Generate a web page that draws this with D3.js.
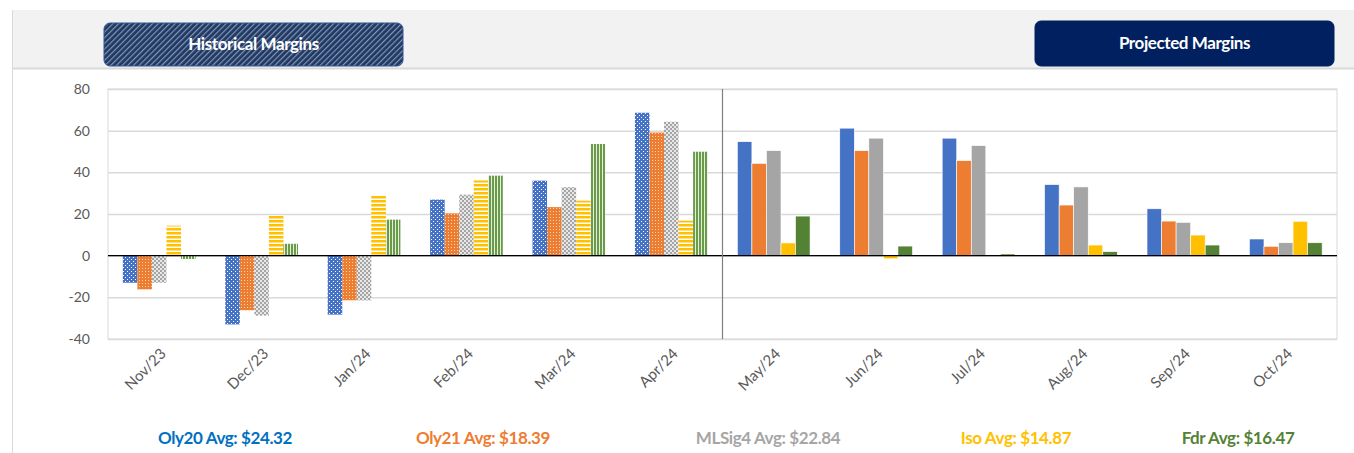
<!DOCTYPE html>
<html>
<head>
<meta charset="utf-8">
<script src="https://cdn.jsdelivr.net/npm/d3@7/dist/d3.min.js"></script>
<style>
  body { margin: 0; background: #fff; }
  svg text { font-family: Lato, "Open Sans", sans-serif; }
</style>
</head>
<body>
<div id="chart"></div>
<script>
// Datos del gráfico
const months = ["Nov/23", "Dec/23", "Jan/24", "Feb/24", "Mar/24", "Apr/24",
                "May/24", "Jun/24", "Jul/24", "Aug/24", "Sep/24", "Oct/24"];
const historicalCount = 6; // los primeros 6 meses son históricos

const oly20  = [-13, -33, -28.3, 26.9, 36, 68.6, 54.7, 61.2, 56.4, 34.1, 22.5, 8];
const oly21  = [-16.2, -26.2, -21.4, 20.3, 23.3, 59.1, 44.3, 50.4, 45.6, 24.3, 16.6, 4.5];
const mlsig4 = [-13, -28.8, -21.5, 29.3, 32.9, 64.3, 50.4, 56.4, 52.8, 33, 16, 6.2];
const iso    = [14.4, 19.2, 28.8, 36.1, 26.4, 16.8, 6.1, -1.5, 0, 5.1, 9.9, 16.5];
const fdr    = [-1.6, 5.7, 17.3, 38.4, 53.6, 49.9, 19, 4.6, 0.8, 1.9, 5.1, 6.2];

const seriesNames = ["Oly20", "Oly21", "MLSig4", "Iso", "Fdr"];
const seriesValues = [oly20, oly21, mlsig4, iso, fdr];
const seriesColors = ["#4472c4", "#ed7d31", "#a5a5a5", "#ffc000", "#548235"];

const avgLabels = ["Oly20 Avg: $24.32", "Oly21 Avg: $18.39", "MLSig4 Avg: $22.84", "Iso Avg: $14.87", "Fdr Avg: $16.47"];
const avgColors = ["#0070c0", "#ed7d31", "#a6a6a6", "#ffc000", "#548235"];
const avgX = [225, 483, 768, 1016, 1238];

const yTicks = [-40, -20, 0, 20, 40, 60, 80];

// Configuración
const W = 1354, H = 453;
const plot = { left: 108, right: 1337, top: 89, bottom: 339 };

const svg = d3.select("#chart").append("svg")
    .attr("width", W)
    .attr("height", H);

const defs = svg.append("defs");

// Patrones para las barras históricas
function pat(id, w, h) {
    return defs.append("pattern").attr("id", id)
        .attr("patternUnits", "userSpaceOnUse")
        .attr("width", w).attr("height", h);
}
// azul: puntos blancos
let p = pat("p0", 4, 4);
p.append("rect").attr("width", 4).attr("height", 4).attr("fill", seriesColors[0]);
p.append("rect").attr("x", 1).attr("y", 1).attr("width", 1).attr("height", 1).attr("fill", "#fff");
p.append("rect").attr("x", 3).attr("y", 3).attr("width", 1).attr("height", 1).attr("fill", "#fff");
// naranja: rejilla fina
p = pat("p1", 3, 3);
p.append("rect").attr("width", 3).attr("height", 3).attr("fill", seriesColors[1]);
p.append("rect").attr("x", 1).attr("y", 1).attr("width", 1).attr("height", 1).attr("fill", "#fbd3b5");
// gris: damero
p = pat("p2", 4, 4);
p.append("rect").attr("width", 4).attr("height", 4).attr("fill", seriesColors[2]);
p.append("rect").attr("x", 0).attr("y", 0).attr("width", 2).attr("height", 2).attr("fill", "#e8e8e8");
p.append("rect").attr("x", 2).attr("y", 2).attr("width", 2).attr("height", 2).attr("fill", "#e8e8e8");
// amarillo: rayas horizontales
p = pat("p3", 4, 4);
p.append("rect").attr("width", 4).attr("height", 4).attr("fill", "#fff");
p.append("rect").attr("width", 4).attr("height", 2.5).attr("fill", seriesColors[3]);
// verde: rayas verticales
p = pat("p4", 3, 3);
p.append("rect").attr("width", 3).attr("height", 3).attr("fill", "#e2efd9");
p.append("rect").attr("width", 2).attr("height", 3).attr("fill", "#6a9a4a");

// botón histórico: rayas diagonales
p = pat("diag", 4, 4).attr("patternTransform", "rotate(45)");
p.append("rect").attr("width", 4).attr("height", 4).attr("fill", "#1f3864");
p.append("rect").attr("width", 1.2).attr("height", 4).attr("fill", "#8496b0");

// Banda superior
svg.append("rect").attr("x", 12).attr("y", 10).attr("width", W - 12).attr("height", 58)
    .attr("fill", "#f2f2f2");
svg.append("line").attr("x1", 12).attr("x2", W).attr("y1", 68.5).attr("y2", 68.5)
    .attr("stroke", "#d9d9d9").attr("stroke-width", 2);
svg.append("line").attr("x1", 12.5).attr("x2", 12.5).attr("y1", 10).attr("y2", H)
    .attr("stroke", "#d9d9d9");

// Botones
const buttons = [
    { label: "Historical Margins", x: 104, y: 23, w: 299, h: 43, fill: "url(#diag)", stroke: "#2f5597" },
    { label: "Projected Margins", x: 1035, y: 21, w: 299, h: 45, fill: "#002060", stroke: "#002060" }
];
buttons.forEach(b => {
    svg.append("rect").attr("x", b.x).attr("y", b.y).attr("width", b.w).attr("height", b.h)
        .attr("rx", 6).attr("fill", b.fill).attr("stroke", b.stroke);
    svg.append("text").attr("x", b.x + b.w / 2).attr("y", b.y + b.h / 2)
        .attr("text-anchor", "middle").attr("dy", "0.35em")
        .attr("fill", "#fff").attr("font-weight", "bold").attr("font-size", 17)
        .style("letter-spacing", "-0.4px")
        .text(b.label);
});

// Escalas
const x = d3.scaleBand().domain(months).range([plot.left, plot.right])
    .paddingInner(0.29).paddingOuter(0.145);
const xs = d3.scaleBand().domain(d3.range(seriesNames.length)).range([0, x.bandwidth()]);
const y = d3.scaleLinear().domain([-40, 80]).range([plot.bottom, plot.top]);

// Área de trazado y rejilla
svg.append("rect").attr("x", plot.left).attr("y", plot.top)
    .attr("width", plot.right - plot.left).attr("height", plot.bottom - plot.top)
    .attr("fill", "#fff").attr("stroke", "#d9d9d9");

svg.append("g")
    .attr("transform", `translate(${plot.left},0)`)
    .call(d3.axisLeft(y).tickValues(yTicks).tickFormat(d => String(d))
        .tickSize(-(plot.right - plot.left)).tickPadding(18))
    .call(g => g.select(".domain").remove())
    .call(g => g.selectAll(".tick line").attr("stroke", "#d9d9d9").attr("stroke-width", 1.5))
    .call(g => g.selectAll(".tick text").attr("fill", "#595959").attr("font-size", 14)
        .attr("font-family", "Lato, 'Open Sans', sans-serif"));

// Barras
seriesValues.forEach((vals, si) => {
    svg.append("g").selectAll("rect")
        .data(vals.map((v, i) => ({ m: months[i], v, i })))
        .enter().append("rect")
        .attr("x", d => x(d.m) + xs(si))
        .attr("width", xs.bandwidth())
        .attr("y", d => y(Math.max(0, d.v)))
        .attr("height", d => Math.abs(y(d.v) - y(0)))
        .attr("fill", d => d.i < historicalCount ? `url(#p${si})` : seriesColors[si])
        .attr("stroke", d => d.i < historicalCount ? "none" : "#fff")
        .attr("stroke-width", 0.6);
});

// Línea cero
svg.append("line").attr("x1", plot.left).attr("x2", plot.right)
    .attr("y1", y(0)).attr("y2", y(0)).attr("stroke", "#000").attr("stroke-width", 1.2);

// Separador histórico / proyectado
const sepX = x(months[historicalCount]) - x.step() * x.paddingInner() / 2;
svg.append("line").attr("x1", sepX).attr("x2", sepX)
    .attr("y1", plot.top).attr("y2", plot.bottom).attr("stroke", "#7f7f7f").attr("stroke-width", 1.2);

// Etiquetas del eje X
svg.append("g").selectAll("text")
    .data(months).enter().append("text")
    .attr("transform", d => `translate(${x(d) + x.bandwidth() / 2 + 4},${plot.bottom + 12}) rotate(-45)`)
    .attr("text-anchor", "end")
    .attr("dy", "0.35em")
    .attr("fill", "#595959")
    .attr("font-size", 15)
    .text(d => d);

// Promedios
svg.append("g").selectAll("text")
    .data(avgLabels).enter().append("text")
    .attr("x", (d, i) => avgX[i])
    .attr("y", 444)
    .attr("text-anchor", "middle")
    .attr("font-weight", "bold")
    .attr("font-size", 17)
    .style("letter-spacing", "-0.4px")
    .attr("fill", (d, i) => avgColors[i])
    .text(d => d);
</script>
</body>
</html>
